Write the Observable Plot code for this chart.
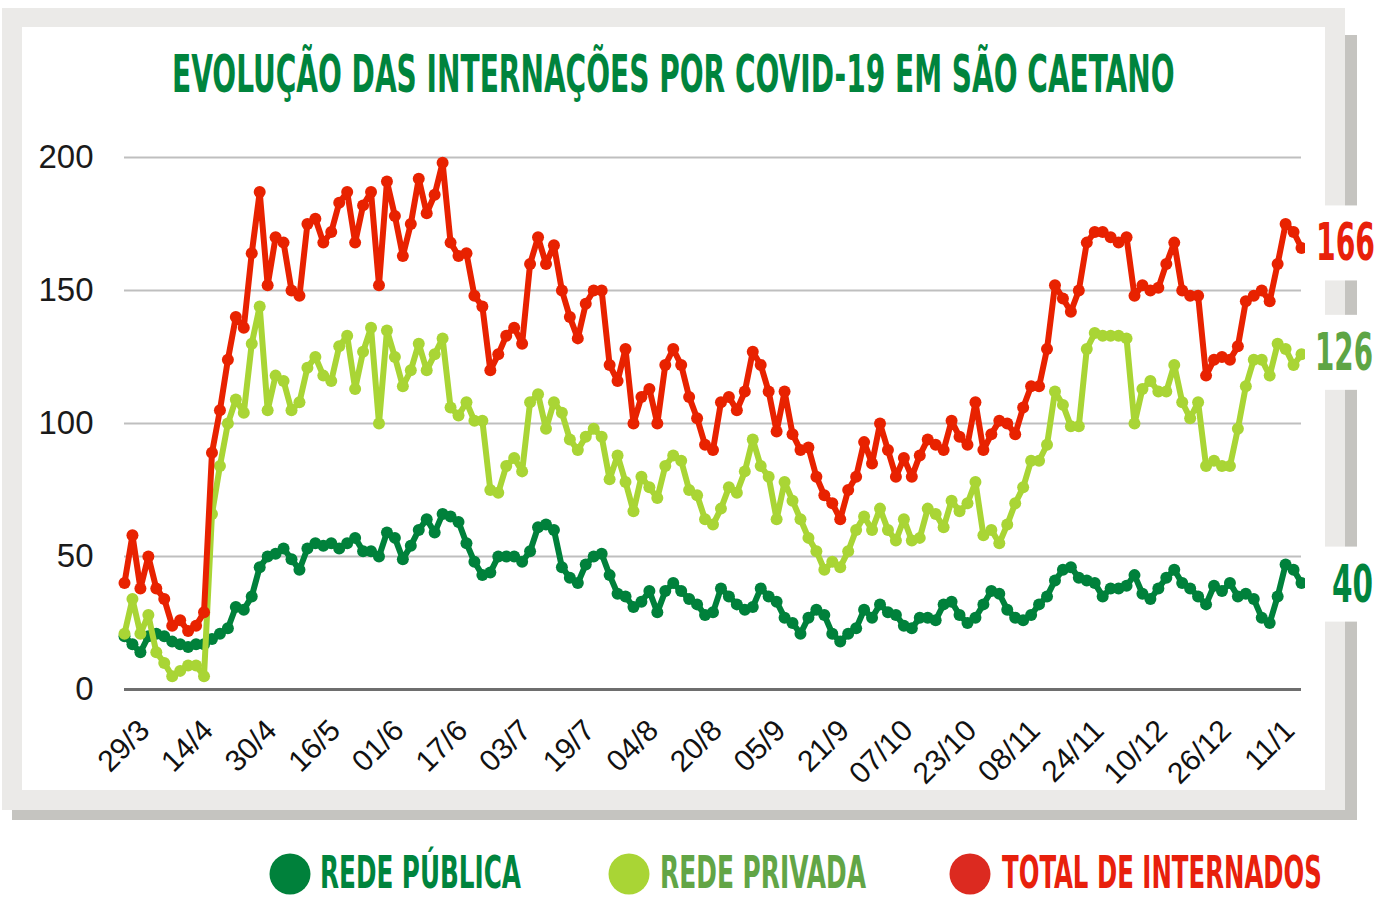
<!DOCTYPE html>
<html><head><meta charset="utf-8">
<script src="https://cdn.jsdelivr.net/npm/d3@7"></script>
<script src="https://cdn.jsdelivr.net/npm/@observablehq/plot@0.6"></script>
<style>
html,body{margin:0;padding:0;background:#fff;width:1388px;height:899px;overflow:hidden;}
#page{position:relative;width:1388px;height:899px;}
.abs{position:absolute;}
</style></head><body><div id="page">
<div class="abs" style="left:12px;top:35px;width:1345px;height:785px;background:#c5c4c0"></div>
<div class="abs" style="left:2px;top:8px;width:1343px;height:802px;background:#ebeae8"></div>
<div class="abs" style="left:22px;top:27px;width:1303px;height:763px;background:#fff"></div>
<div id="chart" class="abs" style="left:22px;top:27px;"></div>
<svg id="over" class="abs" style="left:0;top:0" width="1388" height="899"></svg>
</div>
<script>
// ---- data ----
const titleText = "EVOLUÇÃO DAS INTERNAÇÕES POR COVID-19 EM SÃO CAETANO";
const startDate = "2020-03-24";
const stepDays = 2;
const seriesNames = ["REDE PÚBLICA", "REDE PRIVADA", "TOTAL DE INTERNADOS"];
const redePublica = [
  20,17,14,20,21,20,18,17,16,17,
  17,19,21,23,31,30,35,46,50,51,
  53,49,45,53,55,54,55,53,55,57,
  52,52,50,59,57,49,54,60,64,59,
  66,65,63,55,48,43,44,50,50,50,
  48,52,61,62,60,46,42,40,47,50,
  51,43,36,35,31,33,37,29,37,40,
  37,34,32,28,29,38,35,32,30,31,
  38,35,33,27,25,21,27,30,28,21,
  18,21,23,30,27,32,29,28,24,23,
  27,27,26,32,33,28,25,27,32,37,
  36,30,27,26,28,32,35,41,45,46,
  42,41,40,35,38,38,39,43,36,34,
  38,42,45,40,38,35,32,39,37,40,
  35,36,34,27,25,35,47,45,40];
const redePrivada = [
  21,34,21,28,14,10,5,7,9,9,
  5,66,84,100,109,104,130,144,105,118,
  116,105,108,121,125,118,116,129,133,113,
  127,136,100,135,125,114,120,130,120,126,
  132,106,103,108,101,101,75,74,84,87,
  82,108,111,98,108,104,94,90,95,98,
  95,79,88,78,67,80,76,72,84,88,
  86,75,73,64,62,68,76,74,82,94,
  84,80,64,78,71,64,57,52,45,48,
  46,52,60,65,60,68,60,56,64,56,
  57,68,66,61,71,67,70,78,58,60,
  55,62,70,76,86,86,92,112,107,99,
  99,128,134,133,133,133,132,100,113,116,
  112,112,122,108,102,108,84,86,84,84,
  98,114,124,124,118,130,128,122,126];
const totalInternados = [
  40,58,38,50,38,34,24,26,22,24,
  29,89,105,124,140,136,164,187,152,170,
  168,150,148,175,177,168,172,183,187,168,
  182,187,152,191,178,163,175,192,179,186,
  198,168,163,164,148,144,120,126,133,136,
  130,160,170,160,167,150,140,132,145,150,
  150,122,116,128,100,110,113,100,122,128,
  122,110,102,92,90,108,110,105,112,127,
  122,112,97,112,96,90,91,80,73,70,
  64,75,80,93,85,100,90,80,87,80,
  88,94,92,90,101,95,92,108,90,96,
  101,100,96,106,114,114,128,152,147,142,
  150,168,172,172,170,168,170,148,152,150,
  151,160,168,150,148,148,118,124,125,124,
  129,146,148,150,146,160,175,172,166];
const tickDates = ["2020-03-29","2020-04-14","2020-04-30","2020-05-16","2020-06-01","2020-06-17",
  "2020-07-03","2020-07-19","2020-08-04","2020-08-20","2020-09-05","2020-09-21","2020-10-07",
  "2020-10-23","2020-11-08","2020-11-24","2020-12-10","2020-12-26","2021-01-11"];
const tickLabels = ["29/3","14/4","30/4","16/5","01/6","17/6","03/7","19/7","04/8","20/8",
  "05/9","21/9","07/10","23/10","08/11","24/11","10/12","26/12","11/1"];
const yTicks = [0, 50, 100, 150, 200];

// ---- styles ----
const lineColors = ["#00813b", "#a9d535", "#e82200"];
const legendDotColors = ["#00813b", "#a9d535", "#dc2a20"];
const textColors = ["#00843d", "#62a546", "#e8200c"];

const values = [redePublica, redePrivada, totalInternados];
const dates = redePublica.map((_, i) => d3.utcDay.offset(new Date(startDate), i * stepDays));
const tickDateObjs = tickDates.map(d => new Date(d));
const rows = [];
values.forEach((arr, s) => arr.forEach((v, i) => rows.push({date: dates[i], value: v, s})));

const chart = Plot.plot({
  width: 1303, height: 763,
  marginLeft: 102, marginRight: 24, marginTop: 130, marginBottom: 101,
  style: {background: "transparent", overflow: "visible", fontFamily: "'Liberation Sans', Arial, sans-serif"},
  x: {type: "utc", domain: [dates[0], dates[dates.length - 1]]},
  y: {domain: [0, 200]},
  marks: [
    Plot.gridY(yTicks, {stroke: "#bfbfbf", strokeWidth: 2, strokeOpacity: 1}),
    Plot.ruleY([0], {stroke: "#6e6e6e", strokeWidth: 3}),
    Plot.axisY(yTicks, {tickSize: 0, tickPadding: 31, fontSize: 33, label: null, fill: "#1a1a1a"}),
    Plot.axisX(tickDateObjs, {tickSize: 0, tickPadding: 36, tickRotate: -45, fontSize: 30, label: null, fill: "#111",
      tickFormat: d => tickLabels[tickDateObjs.findIndex(t => +t === +d)]}),
    ...[0, 1, 2].flatMap(s => [
      Plot.line(rows.filter(r => r.s === s), {x: "date", y: "value", stroke: lineColors[s], strokeWidth: 6, strokeLinejoin: "round"}),
      Plot.dot(rows.filter(r => r.s === s), {x: "date", y: "value", fill: lineColors[s], r: 6})
    ])
  ]
});
document.getElementById("chart").appendChild(chart);

// ---- overlay: title, end labels, legend ----
const over = d3.select("#over");
const condensed = "'Liberation Sans Narrow', 'DejaVu Sans Condensed', 'Liberation Sans', sans-serif";
function fitText(txt, x, y, size, width, color) {
  const t = over.append("text").attr("x", 0).attr("y", 0).attr("font-family", condensed)
    .attr("font-weight", "bold").attr("font-size", size).attr("fill", color).text(txt);
  const w = t.node().getComputedTextLength();
  t.attr("transform", `translate(${x},${y}) scale(${width / w},1)`);
  return t;
}
fitText(titleText, 172, 92, 52, 1003, textColors[0]);

const yScale = chart.scale("y");
const endLabelX = [1332, 1315, 1316];
const endLabelW = [41, 58, 59];
const endLabelDy = [19, 16, 13];
const endColors = ["#00843d", "#5ea545", "#e8210a"];
[2, 1, 0].forEach(s => {
  const v = values[s][values[s].length - 1];
  const py = 27 + yScale.apply(v);
  const base = py + endLabelDy[s];
  over.append("rect").attr("x", 1305).attr("y", base - 18 - 37).attr("width", 56).attr("height", 75).attr("fill", "#fff");
  fitText(String(v), endLabelX[s], base, 52, endLabelW[s], endColors[s]);
});

const legendDotX = [290, 629, 970];
const legendTextX = [320, 660, 1002];
const legendTextW = [201, 206, 320];
seriesNames.forEach((name, s) => {
  over.append("circle").attr("cx", legendDotX[s]).attr("cy", 874).attr("r", 20.5).attr("fill", legendDotColors[s]);
  fitText(name, legendTextX[s], 888, 44, legendTextW[s], textColors[s]);
});
</script>
</body></html>
